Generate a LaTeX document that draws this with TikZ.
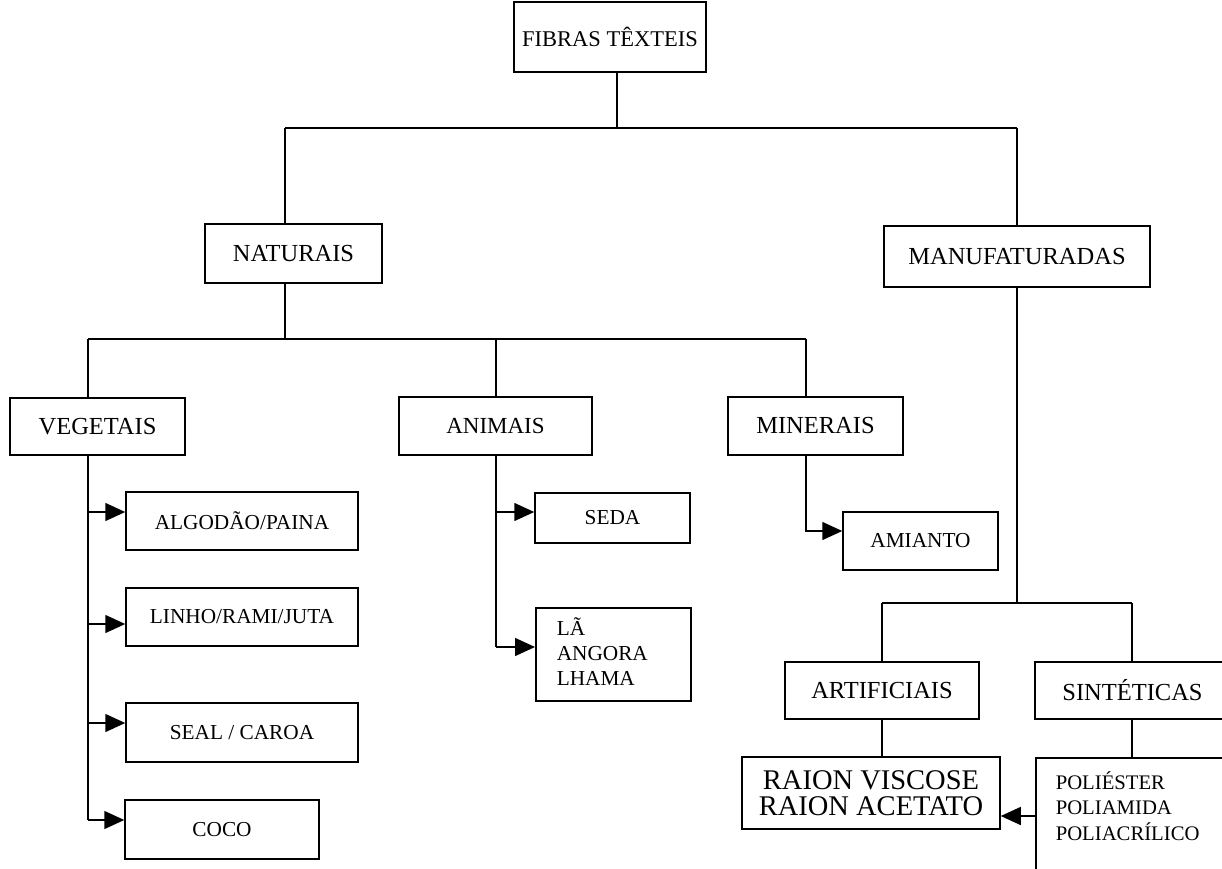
\documentclass[tikz,border=0pt]{standalone}
\usepackage{fontspec}
\setmainfont{Liberation Serif}
\usetikzlibrary{arrows.meta}
\begin{document}
\begin{tikzpicture}[x=1pt,y=-1pt,
  line width=1.5pt,
  bx/.style={draw, rectangle, inner sep=0pt, font=\fontsize{24.5}{26}\selectfont},
  sbx/.style={bx, font=\fontsize{21.3}{25}\selectfont},
  arr/.style={-{Triangle[length=20pt,width=18pt]}}]
\useasboundingbox (0,0) rectangle (1222,869);
\clip (0,0) rectangle (1222,869);
% boxes
\node[bx, minimum width=192, minimum height=70, font=\fontsize{22.5}{26}\selectfont] (fib) at (610,37) {FIBRAS TÊXTEIS};
\node[bx, minimum width=177, minimum height=59] (nat) at (293.5,253.5) {NATURAIS};
\node[bx, minimum width=266, minimum height=61] (man) at (1017,256.5) {MANUFATURADAS};
\node[bx, minimum width=175, minimum height=57] (veg) at (97.5,426.5) {VEGETAIS};
\node[bx, minimum width=193, minimum height=58, font=\fontsize{23}{26}\selectfont] (ani) at (495.5,426) {ANIMAIS};
\node[bx, minimum width=175, minimum height=58] (min) at (815.5,426) {MINERAIS};
\node[sbx, minimum width=232, minimum height=58] (alg) at (242,521) {ALGODÃO/PAINA};
\node[sbx, minimum width=232, minimum height=58] (lin) at (242,617) {LINHO/RAMI/JUTA};
\node[sbx, minimum width=232, minimum height=59] (sea) at (242,732.5) {SEAL / CAROA};
\node[sbx, minimum width=194, minimum height=59] (coc) at (222,829.5) {COCO};
\node[sbx, minimum width=155, minimum height=50] (sed) at (612.5,518) {SEDA};
\node[sbx, anchor=north west, inner xsep=21pt, inner ysep=10pt] (la) at (535,607)
  {\begin{minipage}[t][73pt][t]{113pt}\strut LÃ\\\strut ANGORA\\\strut LHAMA\end{minipage}};
\node[sbx, minimum width=155, minimum height=58] (ami) at (920.5,541) {AMIANTO};
\node[bx, minimum width=194, minimum height=57] (art) at (882,690.5) {ARTIFICIAIS};
\node[bx, minimum width=195, minimum height=57] (sin) at (1132.5,690.5) {SINTÉTICAS};
\node[bx, minimum width=258, minimum height=72, align=center, font=\fontsize{28.5}{26.5}\selectfont] (rai) at (871,793) {RAION VISCOSE\\RAION ACETATO};
\node[sbx, anchor=north west, inner xsep=20pt, inner ysep=13.5pt, font=\fontsize{20.7}{25}\selectfont] (pol) at (1035,757)
  {\begin{minipage}[t][116pt][t]{180pt}\strut POLIÉSTER\\\strut POLIAMIDA\\\strut POLIACRÍLICO\end{minipage}};
% junction coordinates
\coordinate (j0) at (617,128);
\coordinate (jl) at (285,128);
\coordinate (jr) at (1017,128);
\coordinate (n0) at (285,339);
\coordinate (h1) at (88,339);
\coordinate (h2) at (496,339);
\coordinate (h3) at (806,339);
\coordinate (a1) at (88,512);
\coordinate (a2) at (88,624);
\coordinate (a3) at (88,723);
\coordinate (a4) at (88,820);
\coordinate (b1) at (496,512);
\coordinate (b2) at (496,647);
\coordinate (c1) at (806,531);
\coordinate (m0) at (1017,603);
\coordinate (m1) at (882,603);
\coordinate (m2) at (1132,603);
\coordinate (p1) at (1035,816);
% connectors
\draw (fib.south -| j0) -- (j0);
\draw (jl) -- (jr);
\draw (jl) -- (nat.north -| jl);
\draw (jr) -- (man.north -| jr);
\draw (nat.south -| n0) -- (n0);
\draw (h1) -- (h3);
\draw (h1) -- (veg.north -| h1);
\draw (h2) -- (ani.north -| h2);
\draw (h3) -- (min.north -| h3);
\draw (veg.south -| a4) -- (a4);
\draw[arr] (a1) -- (alg.west |- a1);
\draw[arr] (a2) -- (lin.west |- a2);
\draw[arr] (a3) -- (sea.west |- a3);
\draw[arr] (a4) -- (coc.west |- a4);
\draw (ani.south -| b2) -- (b2);
\draw[arr] (b1) -- (sed.west |- b1);
\draw[arr] (b2) -- (la.west |- b2);
\draw[arr] (min.south -| c1) -- (c1) -- (ami.west |- c1);
\draw (man.south -| m0) -- (m0);
\draw (m1) -- (m2);
\draw (m1) -- (art.north -| m1);
\draw (m2) -- (sin.north -| m2);
\draw (art.south) -- (art.south |- rai.north);
\draw (sin.south -| m2) -- (pol.north -| m2);
\draw[arr] (pol.west |- p1) -- (rai.east |- p1);
\end{tikzpicture}
\end{document}
